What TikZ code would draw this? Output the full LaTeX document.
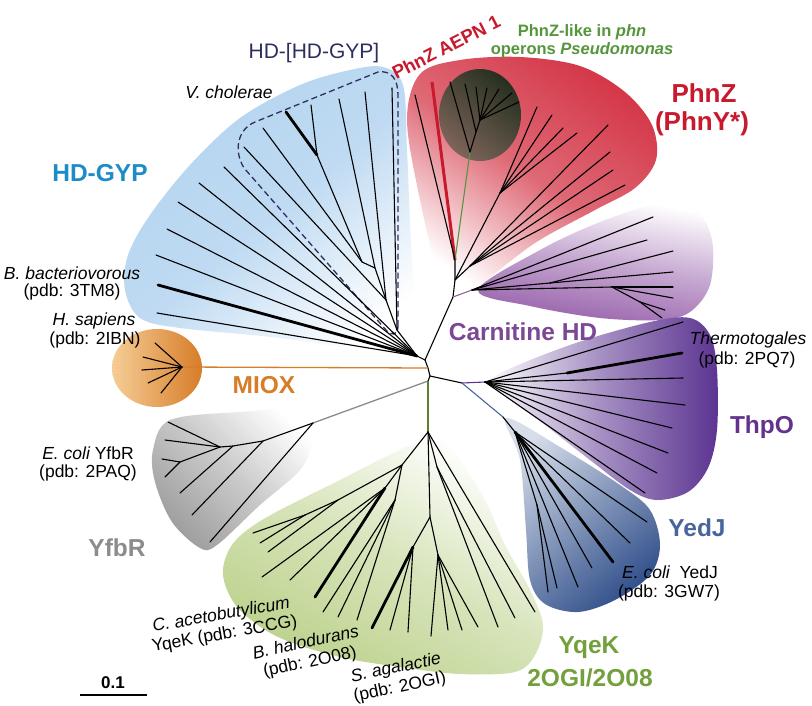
\documentclass[tikz,border=0pt]{standalone}
\usepackage{fontspec}
\setmainfont{Liberation Sans}
\definecolor{bluefill}{RGB}{180,212,240}
\definecolor{hdblue}{RGB}{28,140,200}
\definecolor{navy}{RGB}{45,48,95}
\definecolor{pzred}{RGB}{200,25,45}
\definecolor{redfill}{RGB}{212,55,72}
\definecolor{pgreen}{RGB}{85,150,60}
\definecolor{ygreen}{RGB}{115,160,60}
\definecolor{greenfill}{RGB}{188,210,140}
\definecolor{mxor}{RGB}{215,125,40}
\definecolor{mxlight}{RGB}{245,205,150}
\definecolor{ygray}{RGB}{140,140,140}
\definecolor{grayfill}{RGB}{158,158,158}
\definecolor{cnpur}{RGB}{122,72,148}
\definecolor{cnfill}{RGB}{150,95,170}
\definecolor{tppur}{RGB}{100,50,140}
\definecolor{tpfill}{RGB}{92,52,145}
\definecolor{yjblue}{RGB}{72,102,155}
\definecolor{yjfill}{RGB}{52,82,140}
\definecolor{yjlight}{RGB}{215,222,234}
\definecolor{circdark}{RGB}{38,48,32}
\definecolor{circlight}{RGB}{125,100,90}
\newcommand\fan[3]{\foreach \xx/\yy [count=\kk] in {#3} {\coordinate (#2\kk) at (\xx,\yy); \draw[br] (#1) -- (#2\kk);}}
\begin{document}
\begin{tikzpicture}[x=1pt,y=-1pt,
  br/.style={draw=black,line width=1.1pt,line cap=round},
  thk/.style={draw=black,line width=2.8pt,line cap=round},
  sp/.style={font=\fontsize{17.5}{20}\selectfont,inner sep=0pt},
  spi/.style={font=\fontsize{17.5}{20}\selectfont\itshape,inner sep=0pt},
  rl/.style={font=\fontsize{17.5}{19.5}\selectfont,inner sep=0pt,align=center},
  cl/.style={font=\fontsize{24.5}{28}\selectfont\bfseries,inner sep=0pt},
  dsh/.style={draw=navy,line width=1.3pt,dash pattern=on 6pt off 3.5pt}]
\fill[white] (0,0) rectangle (812,705);
\useasboundingbox (0,0) rectangle (812,705);
% ---------- shaded regions ----------
\shade[top color=bluefill, bottom color=white, middle color=bluefill!85, shading angle=40]
  plot[smooth cycle, tension=0.55] coordinates {(383,67) (403,85) (407,150) (412,260) (420,345) (424,360) (370,352) (280,338) (180,328) (140,318) (125,290) (128,255) (150,215) (190,165) (240,118) (300,85) (350,70)};
\shade[top color=redfill, bottom color=white, middle color=redfill!75, shading angle=-35]
  plot[smooth cycle, tension=0.55] coordinates {(420,74) (460,60) (520,57) (580,66) (625,92) (652,125) (656,160) (635,188) (595,210) (535,243) (480,285) (458,298) (440,280) (420,200) (407,120)};
\shade[left color=white, right color=cnfill, middle color=cnfill!55, shading angle=-10]
  plot[smooth cycle, tension=0.55] coordinates {(478,290) (540,250) (600,222) (655,205) (695,210) (712,240) (710,285) (690,312) (660,320) (600,318) (530,306)};
\shade[left color=white, right color=tpfill, middle color=tpfill!55]
  plot[smooth cycle, tension=0.55] coordinates {(492,378) (570,345) (650,322) (690,318) (710,335) (717,370) (717,430) (708,468) (688,492) (657,500) (630,490) (590,460) (545,425) (505,395)};
\shade[top color=yjlight, bottom color=yjfill, shading angle=40]
  plot[smooth cycle, tension=0.55] coordinates {(506,418) (560,447) (620,485) (650,510) (660,545) (650,575) (615,600) (578,612) (545,604) (530,580) (526,530) (520,460)};
\shade[top color=white, bottom color=greenfill, middle color=greenfill!60, shading angle=-30]
  plot[smooth cycle, tension=0.55] coordinates {(425,440) (330,485) (262,520) (232,545) (223,575) (238,608) (278,637) (340,657) (400,667) (460,674) (515,672) (535,655) (543,625) (530,590) (505,545) (485,500) (455,455)};
\shade[top color=white, bottom color=grayfill, middle color=grayfill!55, shading angle=-45]
  plot[smooth cycle, tension=0.55] coordinates {(170,420) (240,412) (312,410) (313,440) (300,470) (260,505) (217,545) (200,548) (172,522) (155,482) (153,450)};
\shade[left color=mxlight, right color=mxor] (157,368) ellipse [x radius=45, y radius=39];
\shade[top color=circdark, bottom color=circlight, shading angle=-40] (480,115) ellipse [x radius=41, y radius=46];
% ---------- dashed outline ----------
\draw[dsh] (398,326) -- (398,95) .. controls (398,80) and (392,70) .. (378,72) -- (255,122) .. controls (238,129) and (233,150) .. (244,168) -- (386,330) .. controls (391,336) and (398,336) .. (398,326);
% ---------- backbone ----------
\coordinate (r0) at (425,360);
\coordinate (r1) at (428,368);
\coordinate (r2) at (430,376);
\coordinate (r3) at (428,381);
\coordinate (th0) at (462,383);
\coordinate (tp0) at (485,382);
\coordinate (yj0) at (503,417);
\coordinate (mx0) at (182,367);
\coordinate (yf0) at (313,423);
\coordinate (yq0) at (428,432);
\coordinate (hd0) at (417,356);
\coordinate (pc) at (453,297);
\coordinate (cn0) at (472,290);
\coordinate (pz1) at (455,280);
\coordinate (pz0) at (455,260);
\coordinate (pzA) at (500,193);
\coordinate (pzC) at (470,266);
\coordinate (gb) at (470,152);
\coordinate (aepn) at (432,82);
\draw[br] (hd0) -- (r0) -- (r1) -- (r2) -- (r3);
\draw[br] (r2) -- (th0);
\draw[br] (r0) -- (pc) -- (pz1) -- (pz0);
\draw[br] (pz1) -- (pzA);
\draw[br] (pz1) -- (pzC);
\draw[draw=cnfill,line width=1.1pt] (pc) -- (cn0);
\draw[draw=tpfill,line width=1.1pt] (th0) -- (tp0);
\draw[draw=yjblue,line width=1.1pt] (th0) -- (yj0);
\draw[draw=mxor,line width=1.3pt] (r1) -- (mx0);
\draw[draw=ygray,line width=1.3pt] (r3) -- (yf0);
\draw[draw=ygreen!80!black,line width=1.1pt] (r3) -- (yq0);
\draw[draw=pzred,line width=3pt] (pz0) -- (aepn);
\draw[draw=pgreen,line width=1.1pt] (pz0) -- (gb);
% ---------- HD-GYP ----------
\fan{hd0}{hdl}{157/313,156/255,167/229,178/202,199/183,224/167}
\coordinate (hdt) at (158,285);
\draw[thk] (hd0) -- (hdt);
\coordinate (hdd) at (397,330);
\coordinate (hde) at (386,300);
\coordinate (hdf) at (375,268);
\coordinate (hdg) at (362,262);
\coordinate (hvc) at (317,155);
\draw[br] (hd0) -- (hdd) -- (hde) -- (hdf) -- (hdg) -- (hvc);
\fan{hdd}{hda}{392/88}
\fan{hde}{hdb}{365/92,244/147}
\fan{hdf}{hdc}{339/99}
\fan{hdg}{hdh}{263/128}
\fan{hvc}{hdv}{311/105}
\coordinate (vct) at (286,112);
\draw[thk] (hvc) -- (vct);
% ---------- PhnZ ----------
\fan{pz0}{pzl}{415/95}
\fan{pzA}{pza}{537/107,552/115,563/128,577/133}
\fan{pzC}{pzc}{608/125,610/152,613/170,625/185}
\coordinate (gc) at (476,132);
\coordinate (gd) at (480,120);
\draw[br] (gb) -- (gc) -- (gd);
\fan{gb}{gbl}{450/82}
\fan{gc}{gcl}{465/84}
\fan{gd}{gdl}{476/87,487/88,499/89,512/93,519/102}
% ---------- Carnitine HD ----------
\coordinate (cn1) at (550,283);
\coordinate (cn2) at (612,287);
\coordinate (cn3) at (640,302);
\draw[br] (cn0) -- (cn1);
\draw[br] (cn0) -- (cn2) -- (cn3);
\fan{cn0}{cna}{653/217,647/240}
\fan{cn1}{cnb}{673/251,673/272}
\fan{cn2}{cnc}{673/287,673/298}
\fan{cn3}{cnd}{665/310,662/318}
% ---------- ThpO ----------
\fan{tp0}{tpa}{683/322,683/378,685/405,672/428,668/453,657/473,645/493}
\coordinate (tp1) at (567,373);
\coordinate (tpt) at (682,353);
\draw[br] (tp0) -- (tp1);
\draw[thk] (tp1) -- (tpt);
% ---------- YedJ ----------
\coordinate (yj1) at (515,432);
\coordinate (yj2) at (537,505);
\draw[br] (yj0) -- (yj1) -- (yj2);
\fan{yj1}{yja}{647/522,630/543,592/568,578/587}
\coordinate (yjt) at (613,562);
\draw[thk] (yj1) -- (yjt);
\fan{yj2}{yjb}{548/592,557/588}
% ---------- MIOX ----------
\fan{mx0}{mxa}{155/343,143/357,142/370,148/383,161/393}
% ---------- YfbR ----------
\coordinate (yf1) at (263,441);
\coordinate (yf2) at (233,446);
\coordinate (yf3) at (220,447);
\coordinate (yf4) at (180,462);
\draw[br] (yf0) -- (yf1) -- (yf2) -- (yf3) -- (yf4);
\fan{yf0}{yfa}{210/542}
\fan{yf1}{yfb}{192/515}
\fan{yf2}{yfc}{180/493}
\fan{yf3}{yfd}{168/422,165/440}
\fan{yf4}{yfe}{162/459,165/477}
% ---------- YqeK ----------
\coordinate (yqR) at (437,467);
\coordinate (yqM) at (430,517);
\coordinate (yqM2) at (438,555);
\coordinate (yqM3) at (413,547);
\coordinate (yqL) at (402,465);
\coordinate (yqA) at (338,500);
\coordinate (yqA1) at (305,515);
\coordinate (yqC) at (385,488);
\coordinate (yqD) at (395,500);
\draw[br] (yq0) -- (yqR);
\draw[br] (yq0) -- (yqM) -- (yqM2);
\draw[br] (yqM) -- (yqM3);
\draw[br] (yq0) -- (yqL) -- (yqA) -- (yqA1);
\draw[br] (yqL) -- (yqC);
\draw[br] (yqL) -- (yqD);
\fan{yq0}{yqa}{535/612}
\fan{yqR}{yqb}{515/618,498/627}
\fan{yqM2}{yqc}{431/636,448/630,462/630,478/627}
\fan{yqM3}{yqd}{390/630,408/632}
\coordinate (yqt1) at (372,628);
\draw[thk] (yqM3) -- (yqt1);
\fan{yqA1}{yqe}{253/533,260/543}
\fan{yqA}{yqf}{268/552}
\fan{yqC}{yqg}{262/577,290/580}
\coordinate (yqt2) at (315,597);
\draw[thk] (yqC) -- (yqt2);
\fan{yqD}{yqh}{323/612,338/617,357/620}
% ---------- labels ----------
\node[font=\fontsize{21}{24}\selectfont,text=navy,inner sep=0pt] (lhdhd) at (314,53) {HD-[HD-GYP]};
\node[spi] (lvc) at (229,92) {V. cholerae};
\node[cl,text=hdblue] (lhd) at (100,173) {HD-GYP};
\node[spi] (lbb) at (72,273) {B. bacteriovorous};
\node[sp] (lbb2) at (72,292) {(pdb: 3TM8)};
\node[spi] (lhs) at (94,321) {H. sapiens};
\node[sp] (lhs2) at (95,340) {(pdb: 2IBN)};
\node[cl,text=mxor] (lmx) at (264,385) {MIOX};
\node[sp] (lec) at (88,453) {\itshape E. coli\upshape{} YfbR};
\node[sp] (lec2) at (88,473) {(pdb: 2PAQ)};
\node[cl,text=ygray] (lyf) at (117,548) {YfbR};
\node[rl,rotate=10] (lca) at (223,625) {\itshape C. acetobutylicum\\YqeK (pdb: 3CCG)};
\node[rl,rotate=12] (lbh) at (308,653) {\itshape B. halodurans\\(pdb: 2O08)};
\node[rl,rotate=12] (lsa) at (398,678) {\itshape S. agalactie\\(pdb: 2OGI)};
\node[font=\fontsize{17}{20}\selectfont\bfseries,inner sep=0pt] (lsc) at (113,683) {0.1};
\coordinate (sca) at (80,695);
\coordinate (scb) at (147,695);
\draw[black,line width=1.6pt] (sca) -- (scb);
\node[cl,text=ygreen] (lyq) at (589,648) {YqeK};
\node[cl,text=ygreen] (lyq2) at (590,678) {2OGI/2O08};
\node[sp] (lyj) at (670,572) {\itshape E. coli\upshape{}\ \ YedJ};
\node[sp] (lyj2) at (669,593) {(pdb: 3GW7)};
\node[cl,text=yjblue] (lyjc) at (697,528) {YedJ};
\node[cl,text=tppur] (ltp) at (762,427) {ThpO};
\node[spi] (ltm) at (748,340) {Thermotogales};
\node[sp] (ltm2) at (747,360) {(pdb: 2PQ7)};
\node[cl,text=cnpur] (lcn) at (523,332) {Carnitine HD};
\node[font=\fontsize{26}{30}\selectfont\bfseries,text=pzred,inner sep=0pt] (lpz) at (704,93) {PhnZ};
\node[font=\fontsize{26}{30}\selectfont\bfseries,text=pzred,inner sep=0pt] (lpz2) at (702,124) {(PhnY*)};
\node[font=\fontsize{18.5}{22}\selectfont\bfseries,text=pzred,inner sep=0pt,rotate=27] (laepn) at (446,47) {PhnZ AEPN 1};
\node[font=\fontsize{16.5}{20}\selectfont\bfseries,text=pgreen,inner sep=0pt] (lps) at (582,32) {PhnZ-like in \itshape phn};
\node[font=\fontsize{16.5}{20}\selectfont\bfseries,text=pgreen,inner sep=0pt] (lps2) at (582,50) {operons \itshape Pseudomonas};
\end{tikzpicture}
\end{document}
